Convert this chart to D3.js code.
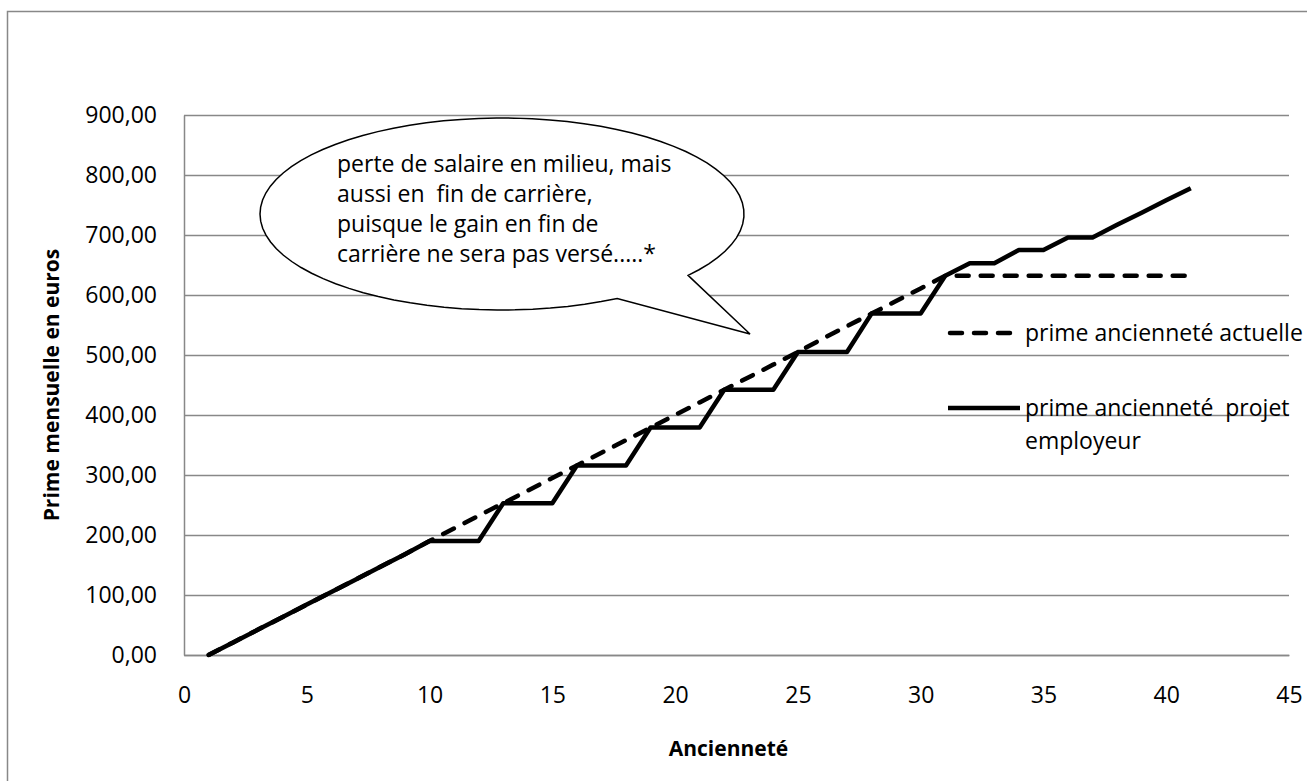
<!DOCTYPE html>
<html>
<head>
<meta charset="utf-8">
<script src="https://cdn.jsdelivr.net/npm/d3@7"></script>
<style>
  body { margin: 0; background: #fff; }
  text { font-family: 'Open Sans', sans-serif; fill: #000; }
</style>
</head>
<body>
<div id="svg-container1"></div>
<script>
const width = 1307;
const height = 781;
const margin = {'top': 115, 'bottom': 126, 'left': 184, 'right': 18};

// data
const anciennete = [1, 2, 3, 4, 5, 6, 7, 8, 9, 10, 11, 12, 13, 14, 15, 16, 17, 18, 19, 20,
    21, 22, 23, 24, 25, 26, 27, 28, 29, 30, 31, 32, 33, 34, 35, 36, 37, 38, 39, 40, 41];
const primeActuelle = [0, 21, 42, 63, 84, 105, 126, 147, 168, 190, 211, 232, 253, 274, 295, 316, 337, 358, 379, 400,
    421, 442, 463, 484, 505, 527, 548, 569, 590, 611, 632, 632, 632, 632, 632, 632, 632, 632, 632, 632, 632];
const primeProjet = [0, 21, 42, 63, 84, 105, 126, 147, 168, 190, 190, 190, 253, 253, 253, 316, 316, 316, 379, 379,
    379, 442, 442, 442, 505, 505, 505, 569, 569, 569, 632, 653, 653, 675, 675, 696, 696, 717, 737, 758, 778];
const xTicks = [0, 5, 10, 15, 20, 25, 30, 35, 40, 45];
const yTicks = [0, 100, 200, 300, 400, 500, 600, 700, 800, 900];
const legendLines = [['prime ancienneté actuelle'], ['prime ancienneté  projet', 'employeur']];
const calloutLines = ['perte de salaire en milieu, mais', 'aussi en  fin de carrière,',
    'puisque le gain en fin de', 'carrière ne sera pas versé.....*'];

const gridColor = '#888888';
const fontSize = '23px';
const fmt = (v) => d3.format('.2f')(v).replace('.', ',');

const svg = d3.select('#svg-container1')
    .append('svg')
    .attr('width', width)
    .attr('height', height);

// chart border
svg.append('rect')
    .attr('x', 7.5).attr('y', 11.5)
    .attr('width', width + 20).attr('height', height + 20)
    .attr('fill', 'none')
    .attr('stroke', gridColor)
    .attr('stroke-width', 1.5);

// scales
const x = d3.scaleLinear()
    .domain([0, 45])
    .range([margin.left, width - margin.right]);
const y = d3.scaleLinear()
    .domain([0, 900])
    .range([height - margin.bottom, margin.top]);

// horizontal gridlines
svg.append('g')
    .attr('class', 'grid')
    .attr('transform', 'translate(' + margin.left + ', 0)')
    .call(d3.axisLeft(y).tickValues(yTicks).tickSize(-(x(45) - x(0))).tickFormat(''))
    .call(g => g.select('.domain').remove())
    .call(g => g.selectAll('line').attr('stroke', gridColor).attr('stroke-width', 1.5));

// y axis
svg.append('g')
    .attr('class', 'y-axis')
    .attr('transform', 'translate(' + margin.left + ', 0)')
    .call(d3.axisLeft(y).tickValues(yTicks).tickSize(0).tickPadding(27).tickFormat(fmt))
    .call(g => g.select('.domain').attr('stroke', gridColor).attr('stroke-width', 1.5))
    .call(g => g.selectAll('text').style('font-size', fontSize).attr('fill', '#000'));

// x axis
svg.append('g')
    .attr('class', 'x-axis')
    .attr('transform', 'translate(0, ' + y(0) + ')')
    .call(d3.axisBottom(x).tickValues(xTicks).tickSize(0).tickPadding(32))
    .call(g => g.select('.domain').attr('stroke', gridColor).attr('stroke-width', 1.5))
    .call(g => g.selectAll('text').style('font-size', fontSize).attr('fill', '#000'));

// axis titles
svg.append('text')
    .attr('x', (x(0) + x(45)) / 2 - 8)
    .attr('y', 756)
    .attr('text-anchor', 'middle')
    .style('font-size', '21px')
    .style('font-weight', 'bold')
    .text('Ancienneté');

svg.append('text')
    .attr('transform', 'translate(59, ' + ((y(0) + y(900)) / 2) + ') rotate(-90)')
    .attr('text-anchor', 'middle')
    .style('font-size', '21px')
    .style('font-weight', 'bold')
    .text('Prime mensuelle en euros');

// lines
const line = (values) => d3.line()
    .x((d, i) => x(anciennete[i]))
    .y((d) => y(d))(values);

svg.append('path')
    .attr('d', line(primeActuelle))
    .attr('fill', 'none')
    .attr('stroke', '#000')
    .attr('stroke-width', 4.5)
    .attr('stroke-linecap', 'round')
    .attr('stroke-dasharray', '12,12');

svg.append('path')
    .attr('d', line(primeProjet))
    .attr('fill', 'none')
    .attr('stroke', '#000')
    .attr('stroke-width', 4.5)
    .attr('stroke-linejoin', 'round');

// legend
const legend = svg.append('g').attr('transform', 'translate(950, 0)');
legend.append('line')
    .attr('x1', 0).attr('x2', 62).attr('y1', 333).attr('y2', 333)
    .attr('stroke', '#000').attr('stroke-width', 4.5)
    .attr('stroke-linecap', 'round').attr('stroke-dasharray', '12,12');
legend.append('line')
    .attr('x1', -2).attr('x2', 70).attr('y1', 408).attr('y2', 408)
    .attr('stroke', '#000').attr('stroke-width', 4.5);
const legendY = [[341], [416, 449]];
legendLines.forEach((lines, s) => {
    lines.forEach((t, j) => {
        legend.append('text')
            .attr('x', 75).attr('y', legendY[s][j])
            .attr('xml:space', 'preserve')
            .style('font-size', fontSize)
            .text(t);
    });
});

// callout bubble
const cx = 502, cy = 214, rx = 242, ry = 96;
const a1 = Math.atan2((276 - cy) / ry, (690 - cx) / rx);
const a2 = Math.atan2((299 - cy) / ry, (618 - cx) / rx);
let bubble = d3.path();
bubble.moveTo(cx + rx * Math.cos(a1), cy + ry * Math.sin(a1));
bubble.lineTo(750, 334);
bubble.lineTo(cx + rx * Math.cos(a2), cy + ry * Math.sin(a2));
const steps = 80;
for (let i = 1; i <= steps; i++) {
    const t = a2 + (2 * Math.PI - (a2 - a1)) * i / steps;
    bubble.lineTo(cx + rx * Math.cos(t), cy + ry * Math.sin(t));
}
bubble.closePath();
svg.append('path')
    .attr('d', bubble.toString())
    .attr('fill', '#fff')
    .attr('stroke', '#000')
    .attr('stroke-width', 1.5);

svg.append('g')
    .selectAll('text')
    .data(calloutLines)
    .join('text')
    .attr('x', 337)
    .attr('y', (d, i) => 172 + i * 30)
    .attr('xml:space', 'preserve')
    .style('font-size', fontSize)
    .text(d => d);
</script>
</body>
</html>
